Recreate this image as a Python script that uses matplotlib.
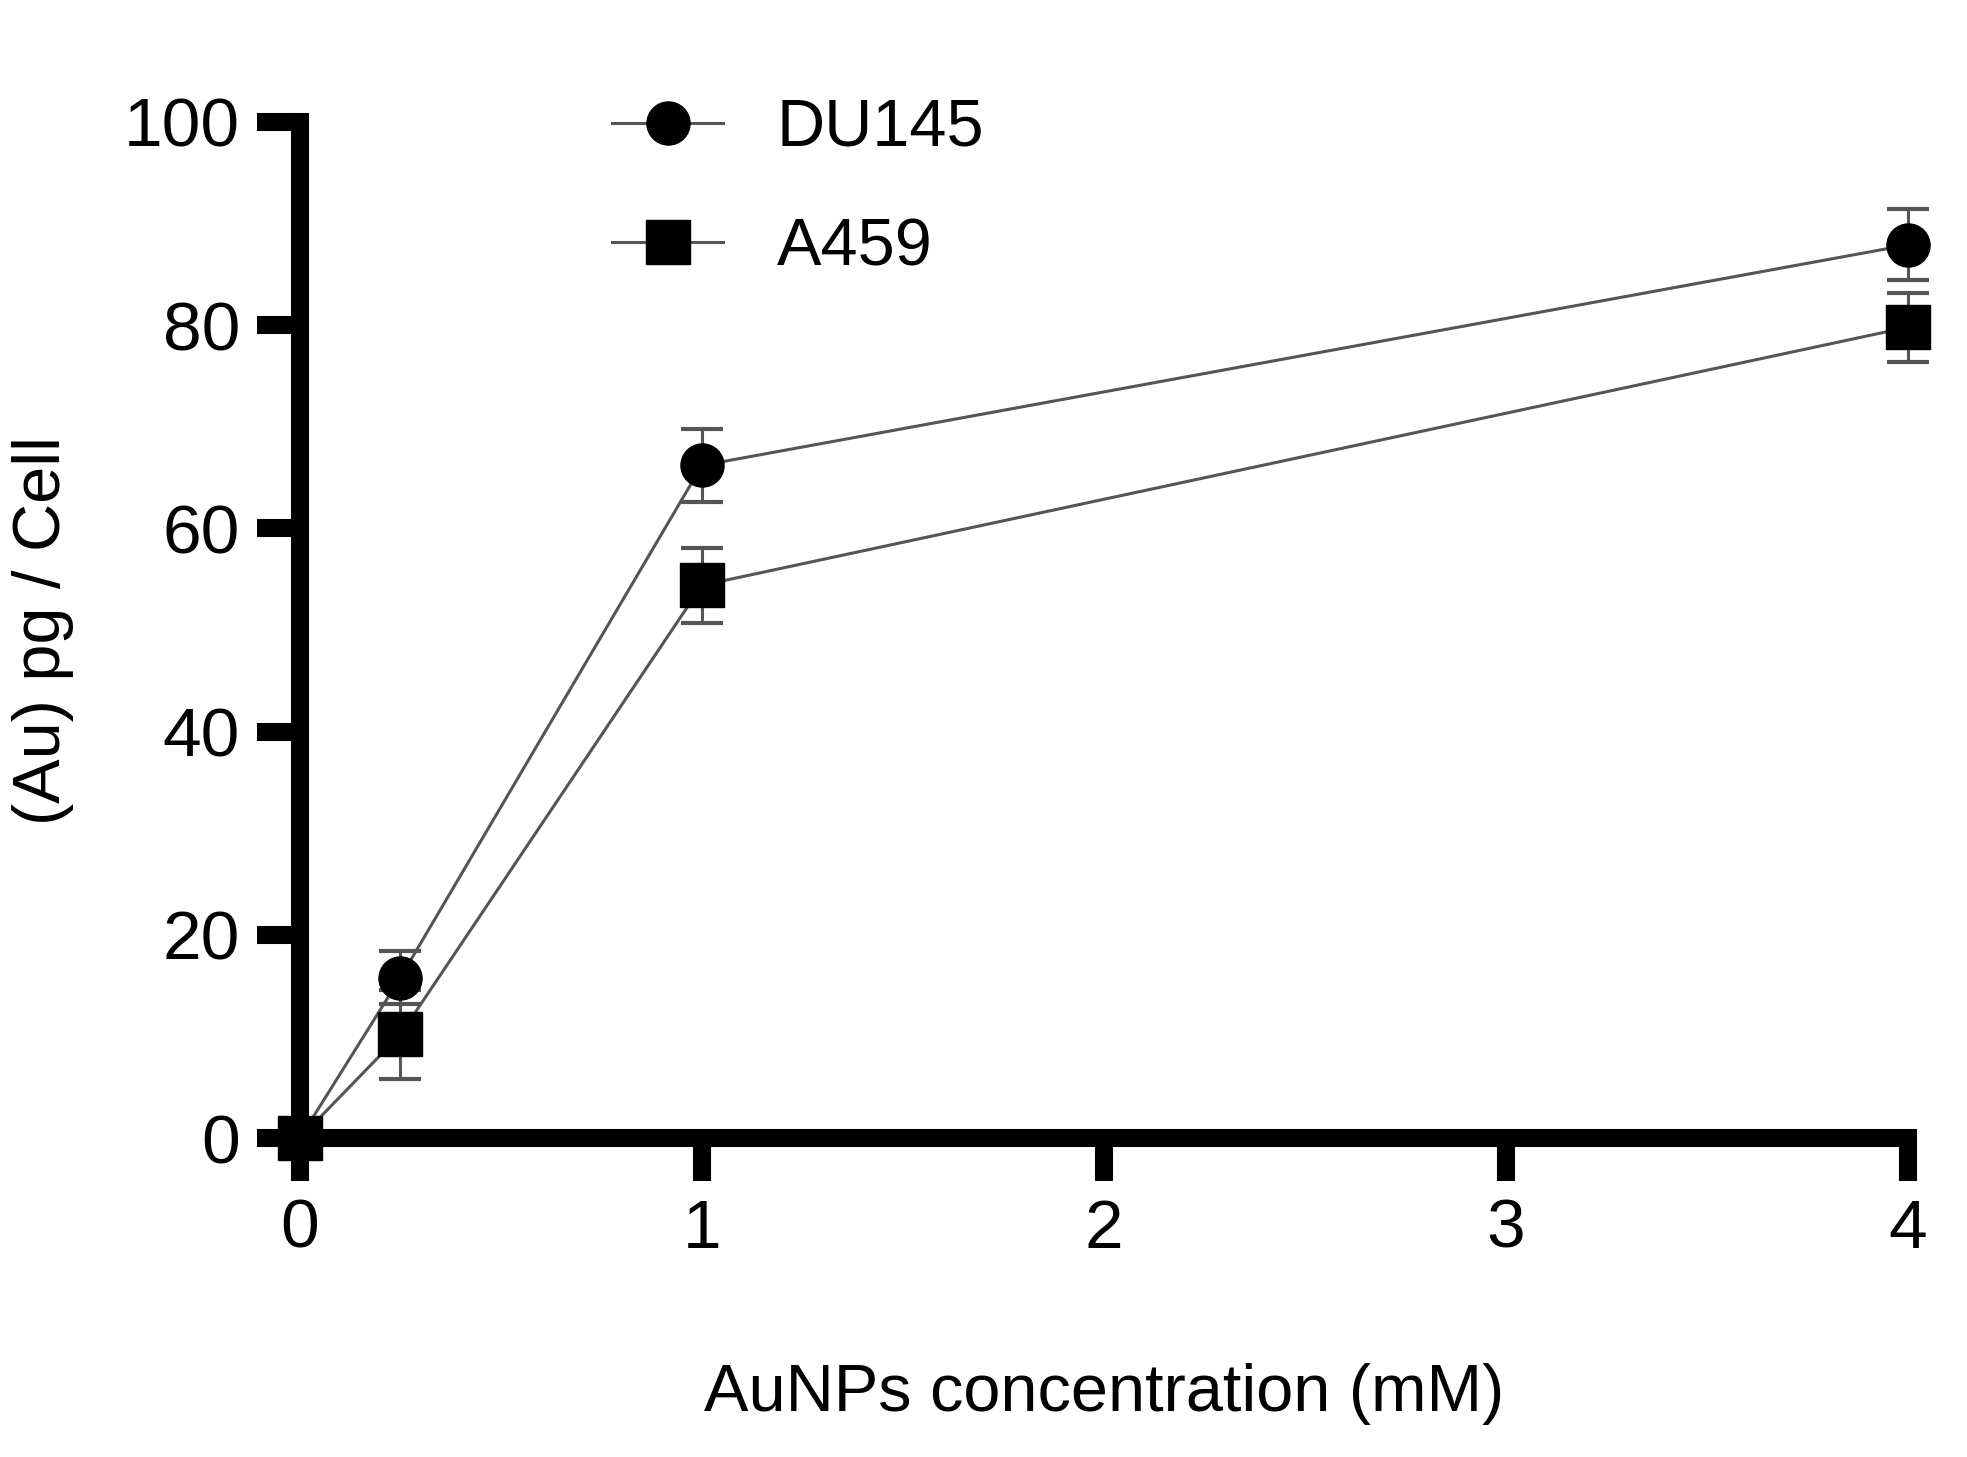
import matplotlib
matplotlib.use('Agg')
import matplotlib.pyplot as plt
import numpy as np

plt.rcParams['font.family'] = ['Liberation Sans', 'DejaVu Sans']

# 数据
conc = [0, 0.25, 1, 4]
du145 = [0, 15.8, 66.2, 87.9]
du145_err = [0, 2.6, 3.6, 3.5]
a459 = [0, 10.2, 54.4, 79.8]
a459_err = [0, 4.4, 3.7, 3.4]

series = [
    ('DU145', du145, du145_err, 'o'),
    ('A459', a459, a459_err, 's'),
]

fig = plt.figure(figsize=(19.67, 14.57), dpi=100)
ax = fig.add_axes([0.1525, 0.2189, 0.970 - 0.1525, 0.9163 - 0.2189])

line_col = '#555555'
for name, vals, err, mk in series:
    ax.errorbar(conc, vals, yerr=err, fmt='none', ecolor=line_col,
                elinewidth=2.2, capsize=15, capthick=3, clip_on=False, zorder=3)
    ax.plot(conc, vals, color=line_col, linewidth=2.2, marker=mk,
            markersize=31, markerfacecolor='black', markeredgecolor='black',
            label=name, clip_on=False, zorder=4)

ax.set_xlim(0, 4)
ax.set_ylim(0, 100)
ax.set_xticks([0, 1, 2, 3, 4])
ax.set_yticks([0, 20, 40, 60, 80, 100])

for s in ['top', 'right']:
    ax.spines[s].set_visible(False)
for s in ['left', 'bottom']:
    ax.spines[s].set_linewidth(13)
    ax.spines[s].set_capstyle('projecting')

ax.tick_params(axis='both', direction='out', length=31, width=13,
               labelsize=50, pad=12)

ax.set_xlabel('AuNPs concentration (mM)', fontsize=48, labelpad=73)
ax.set_ylabel('(Au) pg / Cell', fontsize=48, labelpad=36)

leg = ax.legend(loc='upper left', bbox_to_anchor=(612 / 1967, 1 - 98 / 1457),
                bbox_transform=fig.transFigure, frameon=False, fontsize=48,
                handlelength=1.67, handletextpad=0.8, labelspacing=0.86,
                borderpad=0, borderaxespad=0)

fig.savefig('out.png', dpi=100)
